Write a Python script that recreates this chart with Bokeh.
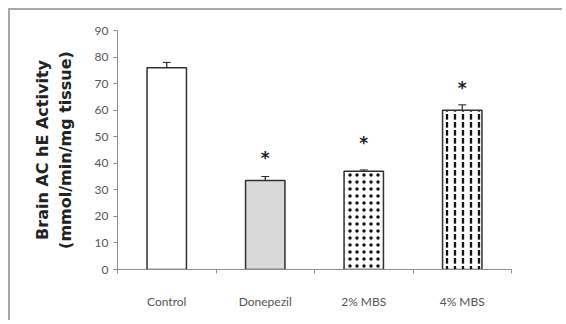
from bokeh.plotting import figure
from bokeh.models import ColumnDataSource, FixedTicker, Whisker
from bokeh.embed import file_html
from bokeh.resources import INLINE
from bokeh.core.properties import value

groups = ["Control", "Donepezil", "2% MBS", "4% MBS"]
activity = [76, 33.5, 37, 60]
errors = [2, 1.5, 0.5, 2]
star_labels = ["", "*", "*", "*"]
star_y = [0, 42, 47.5, 68.5]
fills = ["white", "#d9d9d9", "white", "white"]
hatches = [" ", " ", "dot", "vertical_dash"]
hatch_scales = [7, 7, 7, 8]
y_ticks = list(range(0, 100, 10))

xs = [i + 0.5 for i in range(len(groups))]
src = ColumnDataSource(dict(
    x=xs, top=activity, fill=fills, hatch=hatches, hs=hatch_scales,
    lower=[a - e for a, e in zip(activity, errors)],
    upper=[a + e for a, e in zip(activity, errors)],
    star=star_labels, sy=star_y,
))

p = figure(width=554, height=312, x_range=(0, 4), y_range=(0, 90),
           output_backend="svg", toolbar_location=None,
           min_border_left=107, min_border_right=53,
           min_border_top=20, min_border_bottom=53)
p.styles = {"border-top": "2px solid #a8a8a8", "border-left": "2px solid #a8a8a8",
            "margin-left": "8px", "margin-top": "8px"}
p.outline_line_color = None
p.grid.visible = False
p.background_fill_color = "white"

p.vbar(x="x", top="top", width=0.40, bottom=0, source=src,
       fill_color="fill", line_color="#303030", line_width=1.5,
       hatch_pattern="hatch", hatch_color="#111111", hatch_scale="hs", hatch_weight=2.3)

w = Whisker(base="x", lower="lower", upper="upper", source=src,
            line_color="#222222", line_width=1.2)
w.upper_head.size = 8
w.lower_head.size = 8
w.upper_head.line_color = "#222222"
w.lower_head.line_color = "#222222"
p.add_layout(w)

p.text(x="x", y="sy", text="star", source=src, text_align="center",
       text_baseline="middle", text_font=value("DejaVu Sans"),
       text_font_size="17px", text_font_style="bold", text_color="#222222")

xa = p.xaxis[0]
xa.ticker = FixedTicker(ticks=xs, minor_ticks=[0, 1, 2, 3, 4])
xa.major_label_overrides = {x: g for x, g in zip(xs, groups)}
xa.major_tick_line_color = None
xa.major_tick_in = 0
xa.major_tick_out = 0
xa.minor_tick_in = 0
xa.minor_tick_out = 4
xa.minor_tick_line_color = "#8c8c8c"
xa.axis_line_color = "#8c8c8c"
xa.major_label_standoff = 20
xa.major_label_text_font = "Lato"
xa.major_label_text_font_size = "12px"
xa.major_label_text_color = "#555555"

ya = p.yaxis[0]
ya.ticker = FixedTicker(ticks=y_ticks)
ya.minor_tick_line_color = None
ya.major_tick_in = 0
ya.major_tick_out = 4
ya.major_tick_line_color = "#8c8c8c"
ya.axis_line_color = "#8c8c8c"
ya.major_label_text_font = "Lato"
ya.major_label_text_font_size = "12px"
ya.major_label_text_color = "#555555"
ya.major_label_standoff = 5
ya.axis_label = "Brain AC hE Activity\n(mmol/min/mg tissue)"
ya.axis_label_text_font = "DejaVu Sans"
ya.axis_label_text_font_style = "bold"
ya.axis_label_text_font_size = "16px"
ya.axis_label_text_color = "#222222"
ya.axis_label_standoff = 17

open("out.html", "w").write(file_html(p, INLINE))
